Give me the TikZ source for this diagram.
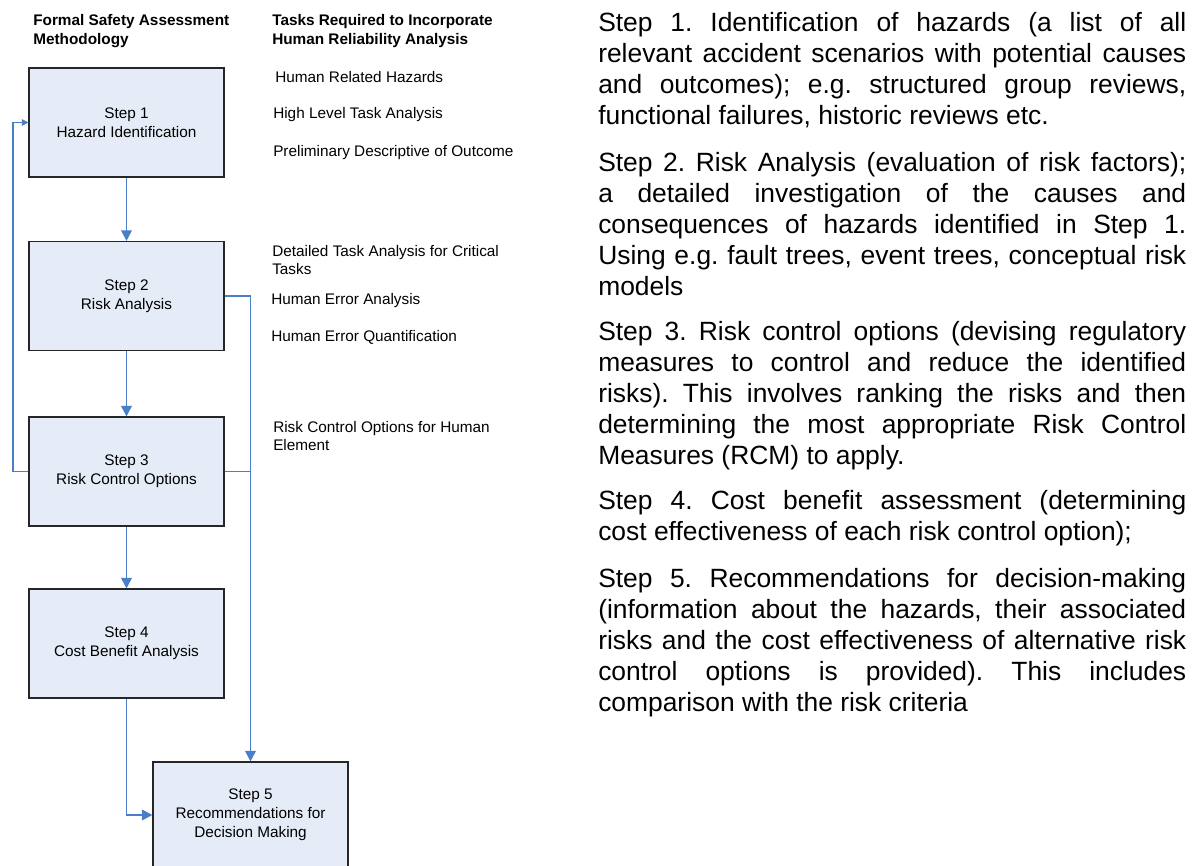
\documentclass[tikz,border=0pt]{standalone}
\usepackage{fontspec}
\setmainfont{Liberation Sans}
\usetikzlibrary{arrows.meta}
\definecolor{lineblue}{HTML}{4A7EC7}
\definecolor{boxfill}{HTML}{E6ECF7}
\newcommand{\smallfont}{\fontsize{11.5}{14.25}\selectfont}
\newcommand{\bigfont}{\fontsize{19.8}{23.25}\selectfont\frenchspacing\hyphenpenalty=10000\exhyphenpenalty=10000}
\tikzset{
  stepbox/.style={draw=black!85, fill=boxfill, line width=0.8pt, minimum width=146.25pt,
    minimum height=81.75pt, align=center, font=\smallfont, inner sep=0pt},
  flow/.style={draw=lineblue, line width=1.4pt, -{Triangle[length=8pt,width=8pt]}},
  flowline/.style={draw=lineblue, line width=1.4pt},
  fback/.style={draw=lineblue, line width=0.8pt, -{Triangle[length=5pt,width=5pt]}},
  lbl/.style={anchor=base west, inner sep=0pt, font=\smallfont},
  hdr/.style={anchor=base west, inner sep=0pt, font=\smallfont\bfseries},
  para/.style={anchor=base west, inner sep=0pt, text width=441pt, align=justify, font=\bigfont}
}
\begin{document}
\begin{tikzpicture}[x=0.75pt, y=-0.75pt]
\useasboundingbox (0,0) rectangle (1197,866);
% headers
\node[hdr] (h1) at (33,25.5) {Formal Safety Assessment};
\node[hdr] (h2) at (33,44.5) {Methodology};
\node[hdr] (h3) at (272,25.5) {Tasks Required to Incorporate};
\node[hdr] (h4) at (272,44.5) {Human Reliability Analysis};
% boxes
\node[stepbox] (s1) at (126.5,122.5) {Step 1\\Hazard Identification};
\node[stepbox] (s2) at (126.5,296) {Step 2\\Risk Analysis};
\node[stepbox] (s3) at (126.5,471.5) {Step 3\\Risk Control Options};
\node[stepbox] (s4) at (126.5,643.5) {Step 4\\Cost Benefit Analysis};
\node[stepbox, minimum height=79.5pt] (s5) at (250.5,815) {Step 5\\Recommendations for\\Decision Making};
% tasks
\node[lbl] (t1) at (275,83) {Human Related Hazards};
\node[lbl] (t2) at (273,119) {High Level Task Analysis};
\node[lbl] (t3) at (273,157) {Preliminary Descriptive of Outcome};
\node[lbl] (t4) at (272,256.5) {Detailed Task Analysis for Critical};
\node[lbl] (t4b) at (272,274.5) {Tasks};
\node[lbl] (t5) at (271,304.5) {Human Error Analysis};
\node[lbl] (t6) at (271,341.5) {Human Error Quantification};
\node[lbl] (t7) at (273,432.5) {Risk Control Options for Human};
\node[lbl] (t7b) at (273,450.5) {Element};
% connectors
\draw[flow] (s1.south) -- (s2.north);
\draw[flow] (s2.south) -- (s3.north);
\draw[flow] (s3.south) -- (s4.north);
\draw[flow] (s4.south) |- (s5.west);
\draw[flow] (s2.east) -| (s5.north);
\draw[flowline] (s3.east) -- (s3.east -| s5.north);
\coordinate (fb) at (13,0);
\draw[fback] (s3.west) -- (s3.west -| fb) |- (s1.west);
% right paragraphs
\node[para] (p1) at (598,31.5) {Step 1. Identification of hazards (a list of all\linebreak
relevant accident scenarios with potential causes\linebreak
and outcomes); e.g. structured group reviews,\linebreak
functional failures, historic reviews etc.};
\node[para] (p2) at (598,171.5) {Step 2. Risk Analysis (evaluation of risk factors);\linebreak
a detailed investigation of the causes and\linebreak
consequences of hazards identified in Step 1.\linebreak
Using e.g. fault trees, event trees, conceptual risk\linebreak
models};
\node[para] (p3) at (598,340.5) {Step 3. Risk control options (devising regulatory\linebreak
measures to control and reduce the identified\linebreak
risks). This involves ranking the risks and then\linebreak
determining the most appropriate Risk Control\linebreak
Measures (RCM) to apply.};
\node[para] (p4) at (598,509.5) {Step 4. Cost benefit assessment (determining\linebreak
cost effectiveness of each risk control option);};
\node[para] (p5) at (598,587.5) {Step 5. Recommendations for decision-making\linebreak
(information about the hazards, their associated\linebreak
risks and the cost effectiveness of alternative risk\linebreak
control options is provided). This includes\linebreak
comparison with the risk criteria};
\end{tikzpicture}
\end{document}
